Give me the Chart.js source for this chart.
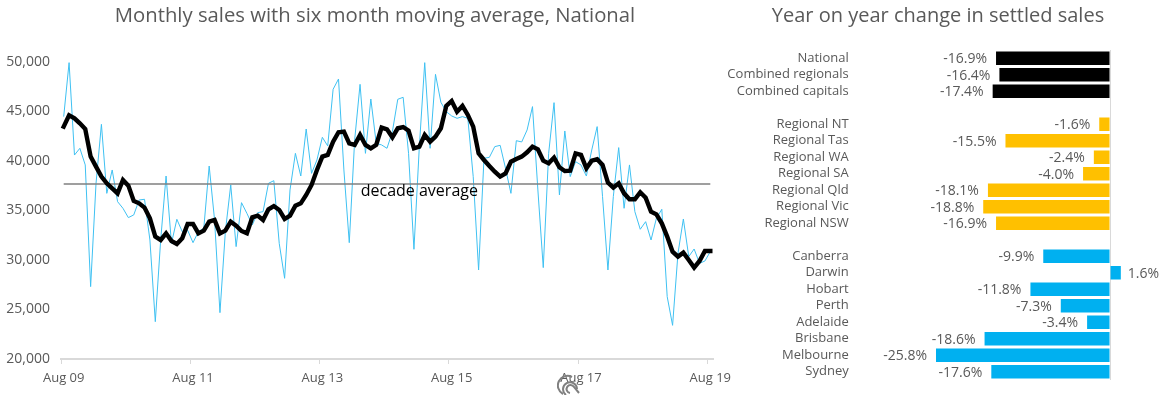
<!DOCTYPE html>
<html>
<head>
<meta charset="utf-8">
<title>Settled sales</title>
<script src="https://cdn.jsdelivr.net/npm/chart.js@4"></script>
<style>
  html, body { margin: 0; padding: 0; background: #fff; overflow: hidden; }
  #wrap { position: relative; width: 1168px; height: 395px; overflow: hidden; }
  canvas { position: absolute; top: 0; }
  #sales-chart { left: 0; }
  #change-chart { left: 712px; }
  #mark { position: absolute; left: 557px; top: 374px; }
</style>
</head>
<body>
<div id="wrap">
  <canvas id="sales-chart" width="750" height="395"></canvas>
  <canvas id="change-chart" width="456" height="395"></canvas>
  <svg id="mark" width="26" height="21" fill="none" stroke="#808080" stroke-width="2">
    <path d="M6 20 A9 9 0 0 1 15 3"/>
    <path d="M9 21 A7 7 0 1 1 20 15"/>
    <path d="M13 19 A4 4 0 1 1 17 13 L22 19"/>
  </svg>
</div>
<script>
const monthNames = ["Aug", "Sep", "Oct", "Nov", "Dec", "Jan", "Feb", "Mar", "Apr", "May", "Jun", "Jul"];
const monthlySales = [
  44480, 49930, 40600, 41280, 39600, 27310, 37740, 43700, 36730, 39090,
  35890, 35220, 34280, 34550, 36060, 36130, 32020, 23770, 32020, 38480,
  31680, 34110, 32860, 33000, 31750, 32860, 33200, 39490, 34040, 24680,
  32860, 37580, 31350, 35790, 34710, 33540, 34780, 34880, 37740, 38010,
  31680, 28150, 37070, 40770, 38480, 43230, 38750, 40100, 42390, 41520,
  47240, 48280, 39090, 31750, 42120, 47740, 40770, 46260, 41780, 41620,
  41280, 42960, 46230, 46430, 40770, 31080, 41450, 49930, 41280, 48750,
  45930, 44980, 44550, 44310, 44480, 44310, 38420, 28990, 40270, 40370,
  41450, 41580, 39260, 36730, 42050, 41920, 43130, 45490, 37070, 29230,
  40770, 45890, 36570, 43030, 38420, 39930, 39600, 38480, 41110, 43470,
  36400, 28990, 36400, 41350, 35220, 39600, 34880, 33100, 33870, 32020,
  34210, 35120, 26300, 23400, 30670, 34140, 30340, 31110, 29660, 29900,
  30840
];
const movingAverage = [
  43470, 44610, 44310, 43800, 43230, 40440, 39430, 38420, 37740, 37240,
  36730, 38080, 37510, 35960, 35720, 35290, 34210, 32360, 32020, 32690,
  31920, 31620, 32190, 33640, 33640, 32690, 32960, 33870, 34040, 32690,
  32960, 33870, 33470, 32930, 32690, 34310, 34480, 34040, 35120, 35450,
  35050, 34140, 34480, 35490, 35720, 36570, 37580, 39090, 40440, 40610,
  41950, 42900, 42960, 41780, 41620, 42630, 41620, 41280, 41620, 43370,
  43200, 42390, 43300, 43430, 43060, 41280, 41450, 42630, 41950, 42460,
  43300, 45560, 46060, 44980, 45560, 44650, 43470, 40770, 40100, 39490,
  38920, 38420, 38750, 39930, 40200, 40440, 40880, 41450, 41180, 40030,
  39760, 40340, 39360, 38990, 39020, 40770, 40610, 39260, 40030, 40170,
  39600, 37810, 37310, 37740, 36730, 36130, 36130, 36840, 36300, 34880,
  34610, 33700, 32360, 30840, 30340, 30740, 30000, 29230, 29900, 30910,
  30910
];
const decadeAverage = 37680;

const regions = [
  "National", "Combined regionals", "Combined capitals", "",
  "Regional NT", "Regional Tas", "Regional WA", "Regional SA", "Regional Qld", "Regional Vic", "Regional NSW", "",
  "Canberra", "Darwin", "Hobart", "Perth", "Adelaide", "Brisbane", "Melbourne", "Sydney"
];
const yearChange = [
  -16.9, -16.4, -17.4, null,
  -1.6, -15.5, -2.4, -4.0, -18.1, -18.8, -16.9, null,
  -9.9, 1.6, -11.8, -7.3, -3.4, -18.6, -25.8, -17.6
];

const TEXT_FONT = "'Open Sans', sans-serif";
const GREY_TEXT = "#595959";
const BLUE = "#00B0F0";
const YELLOW = "#FFC000";

// month labels, one per point
const months = [];
for (let i = 0; i < monthlySales.length; i++) {
  const yr = 9 + Math.floor((i + 7) / 12);
  months.push(`${monthNames[i % 12]} ${String(yr).padStart(2, "0")}`);
}

const barColors = regions.map((r, i) => (i < 3 ? "#000000" : i < 11 ? YELLOW : BLUE));

// text under the flat line
const decadeLabel = {
  id: "decadeLabel",
  afterDatasetsDraw(chart) {
    const c = chart.ctx;
    c.save();
    c.font = `16px ${TEXT_FONT}`;
    c.fillStyle = "#000000";
    c.textAlign = "center";
    c.textBaseline = "middle";
    c.fillText("decade average", chart.scales.x.getPixelForValue(66), chart.scales.y.getPixelForValue(decadeAverage) + 7);
    c.restore();
  },
};

// percent labels next to each bar
const barLabels = {
  id: "barLabels",
  afterDatasetsDraw(chart) {
    const c = chart.ctx;
    const bars = chart.getDatasetMeta(0).data;
    c.save();
    c.font = `14px ${TEXT_FONT}`;
    c.fillStyle = GREY_TEXT;
    c.textBaseline = "middle";
    yearChange.forEach((v, i) => {
      if (v === null) return;
      c.textAlign = v < 0 ? "right" : "left";
      c.fillText(`${v.toFixed(1)}%`, bars[i].x + (v < 0 ? -9 : 7), bars[i].y + 1);
    });
    c.restore();
  },
};

new Chart(document.getElementById("sales-chart"), {
  type: "line",
  data: {
    labels: months,
    datasets: [
      { data: movingAverage, borderColor: "#000000", borderWidth: 4.4, order: 1, borderCapStyle: "square" },
      { data: monthlySales.map(() => decadeAverage), borderColor: "#7F7F7F", borderWidth: 1.5, order: 2 },
      { data: monthlySales, borderColor: "#3FC1F2", borderWidth: 1, order: 3 },
    ],
  },
  options: {
    responsive: false,
    animation: false,
    elements: { point: { radius: 0 }, line: { tension: 0 } },
    plugins: {
      legend: { display: false },
      tooltip: { enabled: false },
      title: {
        display: true,
        text: "Monthly sales with six month moving average, National",
        color: GREY_TEXT,
        font: { family: TEXT_FONT, size: 20.3, weight: "normal" },
        padding: { top: 4, bottom: 33.6 },
      },
    },
    scales: {
      x: {
        offset: true,
        afterFit: (s) => { s.height = 36; },
        border: { color: "#D9D9D9", width: 2 },
        grid: {
          offset: true,
          drawOnChartArea: false,
          tickLength: 5,
          tickColor: (ctx) => (ctx.index % 24 === 0 ? "#D9D9D9" : "rgba(0,0,0,0)"),
        },
        ticks: {
          autoSkip: false,
          maxRotation: 0,
          padding: 6,
          color: GREY_TEXT,
          font: { family: TEXT_FONT, size: 13 },
          callback: (v, i) => (i % 24 === 0 ? months[i] : ""),
        },
      },
      y: {
        min: 20000,
        max: 50000,
        afterFit: (s) => { s.width = 61; },
        border: { display: false },
        grid: { display: false, drawTicks: false },
        ticks: {
          stepSize: 5000,
          padding: 11,
          color: GREY_TEXT,
          font: { family: TEXT_FONT, size: 14 },
          callback: (v) => v.toLocaleString("en-US"),
        },
      },
      // empty axis, keeps the title centred over the whole canvas
      spacer: {
        position: "right",
        afterFit: (s) => { s.width = 37; },
        border: { display: false },
        grid: { display: false, drawTicks: false },
        ticks: { display: false },
      },
    },
  },
  plugins: [decadeLabel],
});

new Chart(document.getElementById("change-chart"), {
  type: "bar",
  data: {
    labels: regions,
    datasets: [
      { data: yearChange, backgroundColor: barColors, barPercentage: 0.82, categoryPercentage: 1 },
    ],
  },
  options: {
    indexAxis: "y",
    responsive: false,
    animation: false,
    layout: { padding: { right: 4, bottom: 15 } },
    plugins: {
      legend: { display: false },
      tooltip: { enabled: false },
      title: {
        display: true,
        text: "Year on year change in settled sales",
        color: GREY_TEXT,
        font: { family: TEXT_FONT, size: 20, weight: "normal" },
        padding: { top: 4, bottom: 22 },
      },
    },
    scales: {
      x: {
        min: -38,
        max: 8,
        afterFit: (s) => { s.height = 0; },
        border: { display: false },
        grid: {
          drawTicks: false,
          color: (ctx) => (ctx.tick && ctx.tick.value === 0 ? "#D9D9D9" : "rgba(0,0,0,0)"),
        },
        ticks: { display: false, stepSize: 2 },
      },
      y: {
        afterFit: (s) => { s.width = 141.7; },
        border: { display: false },
        grid: { display: false, drawTicks: false },
        ticks: {
          autoSkip: false,
          padding: 5,
          color: GREY_TEXT,
          font: { family: TEXT_FONT, size: 13 },
        },
      },
    },
  },
  plugins: [barLabels],
});
</script>
</body>
</html>
